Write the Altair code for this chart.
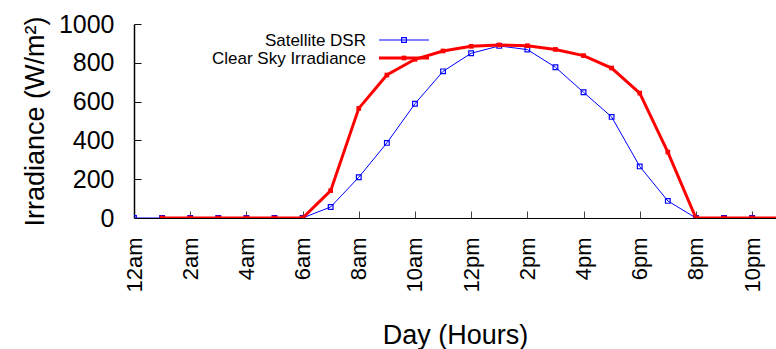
import altair as alt
import pandas as pd

# Hourly irradiance over one day (W/m^2)
hours = list(range(24))
satellite_dsr = [0, 0, 0, 0, 0, 0, 0, 57, 210, 387, 589, 756,
                 849, 887, 868, 777, 648, 521, 266, 88, 0, 0, 0, 0]

clear_sky_hours = list(range(1, 24))
clear_sky = [0, 0, 0, 0, 0, 0, 141, 565, 737, 818, 861, 885,
             892, 888, 869, 837, 773, 644, 340, 0, 0, 0, 0]

series_names = ["Satellite DSR", "Clear Sky Irradiance"]
series_colors = ["#0000ff", "#ff0000"]

tick_hours = list(range(0, 24, 2))
tick_labels = ["12am", "2am", "4am", "6am", "8am", "10am",
               "12pm", "2pm", "4pm", "6pm", "8pm", "10pm"]
y_ticks = [0, 200, 400, 600, 800, 1000]

FONT = "Liberation Sans"
W, H = 642, 194

sat_df = pd.DataFrame({"hour": hours, "value": satellite_dsr})
clr_df = pd.DataFrame({"hour": clear_sky_hours, "value": clear_sky})

label_expr = " : ".join(
    f"datum.value == {h} ? '{t}'" for h, t in zip(tick_hours, tick_labels)
) + " : ''"

x_scale = alt.Scale(domain=[0, 22.85], nice=False, zero=False)
y_scale = alt.Scale(domain=[0, 1000], nice=False)

# labelled axes
x_axis = alt.Axis(
    values=tick_hours, labelExpr=label_expr, ticks=False, grid=False,
    labelAngle=270, labelAlign="right", labelBaseline="middle",
    labelPadding=19, labelFontSize=22, labelFont=FONT, labelColor="black",
    labelOverlap=False, labelFlush=False,
    domainColor="black", domainWidth=1,
    title="Day (Hours)", titleFont=FONT, titleFontSize=27,
    titleFontWeight="normal", titleColor="black",
    titleX=W / 2, titleY=125, titleAlign="center", titleBaseline="alphabetic",
)
y_axis = alt.Axis(
    values=y_ticks, format="d", ticks=False, grid=False,
    labelFontSize=25, labelFont=FONT, labelColor="black", labelPadding=20,
    labelFlush=False, labelOverlap=False,
    domainColor="black", domainWidth=1.5,
    title="Irradiance (W/m²)", titleFont=FONT, titleFontSize=27,
    titleFontWeight="normal", titleColor="black", titleAngle=270,
    titleX=-91, titleY=H / 2, titleAlign="center", titleBaseline="alphabetic",
)

# tick-only axes folded back onto the plot edges so the ticks point inward
x_tick_axis = alt.Axis(
    orient="top", offset=-H, values=tick_hours[1:], labels=False, domain=False,
    grid=False, ticks=True, tickSize=7, tickWidth=1, tickColor="#444444", title=None,
)
y_tick_axis = alt.Axis(
    orient="right", offset=-W, values=y_ticks[1:], labels=False, domain=False,
    grid=False, ticks=True, tickSize=7, tickWidth=1, tickColor="#111111", title=None,
)

sat_line = alt.Chart(sat_df).mark_line(
    color=series_colors[0], strokeWidth=1, clip=True
).encode(
    x=alt.X("hour:Q", scale=x_scale, axis=x_axis),
    y=alt.Y("value:Q", scale=y_scale, axis=y_axis),
)
sat_pts = alt.Chart(sat_df).mark_point(
    shape="square", filled=False, color=series_colors[0], size=22,
    strokeWidth=1.2, opacity=1, clip=True
).encode(
    x=alt.X("hour:Q", scale=x_scale, axis=x_tick_axis),
    y=alt.Y("value:Q", scale=y_scale, axis=y_tick_axis),
)

clr_line = alt.Chart(clr_df).mark_line(
    color=series_colors[1], strokeWidth=3, clip=True
).encode(
    x=alt.X("hour:Q", scale=x_scale, axis=None),
    y=alt.Y("value:Q", scale=y_scale, axis=None),
)
clr_pts = alt.Chart(clr_df).mark_point(
    shape="square", filled=True, color=series_colors[1], size=22,
    opacity=1, clip=True
).encode(
    x=alt.X("hour:Q", scale=x_scale, axis=None),
    y=alt.Y("value:Q", scale=y_scale, axis=None),
)

# key in the upper left of the plot
legend_layers = []
for i, (name, col) in enumerate(zip(series_names, series_colors)):
    row = pd.DataFrame({"name": [name]})
    ly = 16 + 18 * i
    legend_layers.append(
        alt.Chart(row).mark_text(
            align="right", baseline="middle", font=FONT, fontSize=17, color="black"
        ).encode(text="name:N", x=alt.value(232), y=alt.value(ly + 1))
    )
    legend_layers.append(
        alt.Chart(row).mark_rule(color=col, strokeWidth=1 if i == 0 else 3).encode(
            x=alt.value(245), x2=alt.value(295), y=alt.value(ly)
        )
    )
    legend_layers.append(
        alt.Chart(row).mark_point(
            shape="square", filled=(i == 1), color=col, size=22,
            strokeWidth=1.2, opacity=1
        ).encode(x=alt.value(270), y=alt.value(ly))
    )

chart = alt.layer(
    sat_line, sat_pts, clr_line, clr_pts, *legend_layers
).resolve_axis(
    x="independent", y="independent"
).properties(
    width=W, height=H,
    autosize=alt.AutoSizeParams(type="none"),
    padding={"left": 134, "top": 24, "right": 0, "bottom": 131},
    background="white",
).configure_view(stroke=None).configure_axis(labelOverlap=False)

chart.save("out.html", embed_options={"renderer": "svg", "actions": False})
